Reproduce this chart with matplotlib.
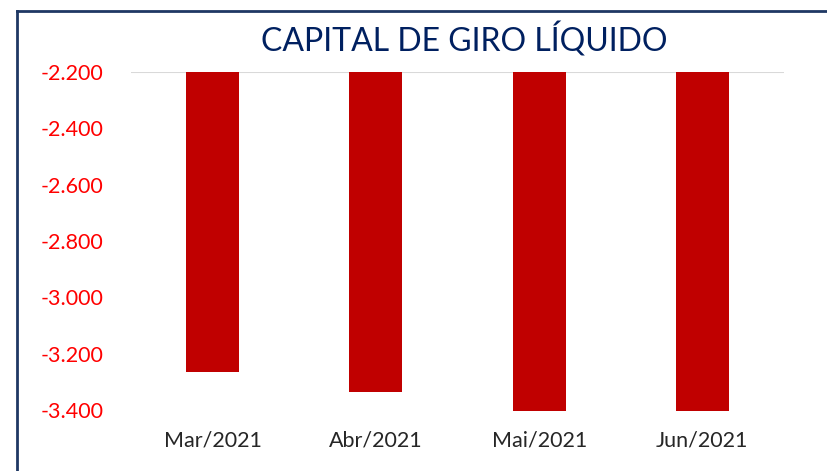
import matplotlib.pyplot as plt
from matplotlib.lines import Line2D

# dados
meses = ['Mar/2021', 'Abr/2021', 'Mai/2021', 'Jun/2021']
valores = [-3266, -3337, -3410, -3410]
ticks_y = [-2200, -2400, -2600, -2800, -3000, -3200, -3400]
rotulos_y = ['-2.200', '-2.400', '-2.600', '-2.800', '-3.000', '-3.200', '-3.400']

plt.rcParams['font.family'] = ['Lato', 'DejaVu Sans']

fig = plt.figure(figsize=(8.27, 4.71), dpi=100)
ax = fig.add_axes([131/827, 1 - 411.4/471, (784-131)/827, (411.4-72)/471])

x = list(range(len(meses)))
ax.bar(x, [v - (-2200) for v in valores], bottom=-2200, width=0.325, color='#C00000')

ax.set_ylim(-3405, -2200)
ax.set_xlim(-0.5, len(meses) - 0.5)
ax.set_yticks(ticks_y)
ax.set_yticklabels(rotulos_y, color='#FF0000', fontsize=15.5)
ax.set_xticks(x)
ax.set_xticklabels(meses, color='#262626', fontsize=15.5)
ax.tick_params(length=0)
ax.tick_params(axis='x', pad=14)
ax.tick_params(axis='y', pad=65)
for lbl in ax.get_yticklabels():
    lbl.set_horizontalalignment('left')
for s in ax.spines.values():
    s.set_visible(False)
ax.axhline(-2200, color='#D9D9D9', lw=1.5, zorder=0)

fig.text(464/827, 1 - 40/471, 'CAPITAL DE GIRO LÍQUIDO', ha='center', va='center',
         fontsize=23, color='#002060')

# moldura
fig.add_artist(Line2D([17/827, 17/827], [0, 1 - 11/471], color='#1F3864', lw=2,
                      transform=fig.transFigure))
fig.add_artist(Line2D([17/827, 1], [1 - 11/471, 1 - 11/471], color='#1F3864', lw=2,
                      transform=fig.transFigure))

fig.savefig('out.png', dpi=100)
